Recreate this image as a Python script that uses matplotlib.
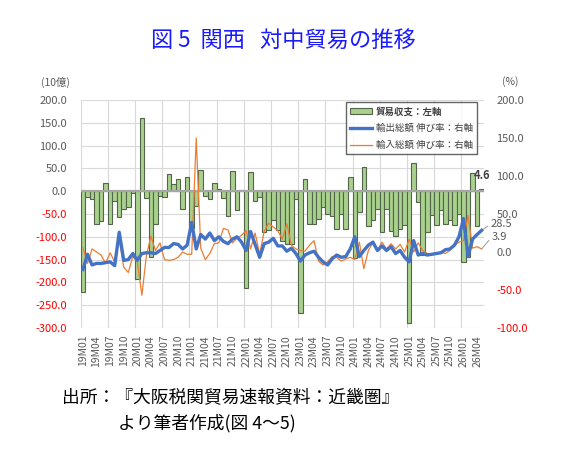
import matplotlib
matplotlib.use("Agg")
import matplotlib.pyplot as plt
from matplotlib.patches import Patch
from matplotlib.lines import Line2D

plt.rcParams['font.family'] = ['Noto Sans CJK JP', 'DejaVu Sans']

# ---- data ----
years = [19, 20, 21, 22, 23, 24, 25, 26]
months = [f"{y}M{m:02d}" for y in years for m in range(1, 13)][:89]

balance = [-221, -12, -17, -73, -66, 19, -73, -22, -57, -39, -35, -4,
           -192, 161, -15, -144, -73, -10, -12, 37, 16, 26, -39, 32,
           -80, -33, 47, -10, -17, 18, 5, -16, -54, 45, -42, 3,
           -212, 42, -22, -12, -89, -85, -64, -85, -110, -115, -115, -17,
           -268, 26, -71, -71, -62, -35, -49, -55, -82, -49, -82, 31,
           -146, -46, 53, -77, -63, -38, -90, -40, -87, -98, -83, -74,
           -289, 61, -24, -139, -90, -53, -75, -42, -73, -64, -75, -51,
           -155, -144, 39, -77, 4.6]

export_growth = [-23, -3, -17, -15, -15, -14, -13, -18, 26, -11, -10, -2,
                 -11, -2, -1, -1, -2, 2, 6, 6, 11, 10, 4, 9,
                 39, 4, 23, 17, 25, 15, 20, 14, 11, 17, 20, 13,
                 2, 27, 10, -7, 11, 13, 18, 8, 8, 1, 5, -2,
                 -12, -4, -1, 1, -7, -13, -17, -9, -4, -7, -6, 4,
                 20, -6, 2, 9, 13, 2, 8, 2, 7, -2, 2, -7,
                 -13, 15, -4, -2, -4, -3, -2, -1, 3, 4, 9, 20,
                 44, -6, 17, 23, 28.5]

import_growth = [6, -15, 4, 0, -4, -15, -1, -13, 17, -20, -27, -6,
                 -13, -57, -5, 21, 2, 12, -10, -11, -10, -7, 0, -3,
                 -3, 150, 5, -10, -2, 11, 12, 31, 29, 12, 18, 22,
                 28, 4, 25, -3, 27, 38, 33, 28, 17, 37, 9, 4,
                 2, 1, 9, 15, -12, -17, -13, -6, -7, -12, -9, -7,
                 -10, 13, -22, 2, 12, 2, 13, 4, 11, 4, 10, 0,
                 17, 0, 12, 2, -2, -4, -2, 0, -2, 2, 9, 13,
                 15, 48, 5, 7, 3.9]

left_ticks = [200, 150, 100, 50, 0, -50, -100, -150, -200, -250, -300]
right_ticks = [200, 150, 100, 50, 0, -50, -100]

title = "図 5  関西   対中貿易の推移"
source1 = "出所：『大阪税関貿易速報資料：近畿圏』"
source2 = "より筆者作成(図 4～5)"

# ---- figure ----
W, H = 575, 457
fig = plt.figure(figsize=(W / 100, H / 100), dpi=100)
ax = fig.add_axes([80.7 / W, 1 - 328 / H, (483.9 - 80.7) / W, 228 / H])
ax2 = ax.twinx()

n = len(months)
x = list(range(n))
gray = '#595959'

ax.set_xlim(-0.5, n - 0.5)
ax.set_ylim(-300, 200)
ax2.set_ylim(-100, 200)

# gridlines
for t in left_ticks:
    ax.axhline(t, color='#d9d9d9', lw=0.8, zorder=0)
for k in range(0, n, 6):
    ax.axvline(k - 0.5, color='#d9d9d9', lw=0.8, zorder=0)

ax.bar(x, balance, width=1.0, color='#A9D18E', edgecolor='#52654a',
       linewidth=0.8, zorder=2)
ax.axhline(0, color='#a6a6a6', lw=1.6, zorder=3)

ax2.plot(x, import_growth, color='#ED7D31', lw=0.9, zorder=3)
ax2.plot(x, export_growth, color='#4472C4', lw=2.4, zorder=4,
         solid_joinstyle='round')

for s in list(ax.spines.values()) + list(ax2.spines.values()):
    s.set_visible(False)

# ticks
ax.set_yticks(left_ticks)
ax.set_yticklabels([f"{t:.1f}" for t in left_ticks], fontsize=8)
for lab, t in zip(ax.get_yticklabels(), left_ticks):
    lab.set_color('#FF0000' if t < 0 else gray)
ax.tick_params(axis='y', length=0, pad=10)

ax2.set_yticks(right_ticks)
ax2.set_yticklabels([f"{t:.1f}" for t in right_ticks], fontsize=8)
for lab, t in zip(ax2.get_yticklabels(), right_ticks):
    lab.set_color('#FF0000' if t < 0 else gray)
ax2.tick_params(axis='y', length=0, pad=9)

ax.set_xticks(x[::3])
ax.set_xticklabels(months[::3], rotation=90, fontsize=7.5, color=gray)
ax.tick_params(axis='x', length=0, pad=5)

# unit labels
fig.text(55 / W, 1 - 82 / H, "(10億)", fontsize=7.5, color=gray,
         ha='center', va='center')
fig.text(510 / W, 1 - 82 / H, "(%)", fontsize=7.5, color=gray,
         ha='center', va='center')

# data labels
ax.annotate(f"{balance[-1]}", xy=(n - 1, balance[-1]), xytext=(0, 14),
            textcoords='offset pixels', ha='center', va='center',
            fontsize=8, fontweight='bold', color='#404040', zorder=6)
ax2.annotate(f"{export_growth[-1]}", xy=(n - 1, export_growth[-1]),
             xytext=(9, 6), textcoords='offset pixels', ha='left',
             va='center', fontsize=8, color=gray,
             arrowprops=dict(arrowstyle='-', color='#a6a6a6', lw=0.8,
                             shrinkA=0, shrinkB=0, relpos=(0, 0.5)))
ax2.annotate(f"{import_growth[-1]}", xy=(n - 1, import_growth[-1]),
             xytext=(10, 12), textcoords='offset pixels', ha='left',
             va='center', fontsize=8, color=gray,
             arrowprops=dict(arrowstyle='-', color='#a6a6a6', lw=0.8,
                             shrinkA=0, shrinkB=0, relpos=(0, 0.5)))

# legend
handles = [Patch(facecolor='#A9D18E', edgecolor='#52654a', linewidth=0.8),
           Line2D([], [], color='#4472C4', lw=2.4),
           Line2D([], [], color='#ED7D31', lw=0.9)]
labels = ["貿易収支：左軸", "輸出総額 伸び率：右軸", "輸入総額 伸び率：右軸"]
leg = ax2.legend(handles, labels, loc='upper left',
                 bbox_to_anchor=(346 / W, 1 - 102 / H),
                 bbox_transform=fig.transFigure, fontsize=6.8,
                 frameon=True, fancybox=False, edgecolor='#404040',
                 borderpad=0.45, handlelength=2.3, handletextpad=0.4,
                 labelspacing=0.8, borderaxespad=0)
leg.get_frame().set_linewidth(1.0)
leg.set_zorder(10)
for t in leg.get_texts():
    t.set_color('#404040')
leg.get_texts()[0].set_fontweight('bold')

# title and source
fig.text(283 / W, 1 - 41 / H, title, fontsize=16, color='#1a1aff',
         ha='center', va='center')
fig.text(62 / W, 1 - 398 / H, source1, fontsize=12.8, color='black',
         ha='left', va='center')
fig.text(118 / W, 1 - 423 / H, source2, fontsize=12.8, color='black',
         ha='left', va='center')

fig.savefig("out.png", dpi=100)
